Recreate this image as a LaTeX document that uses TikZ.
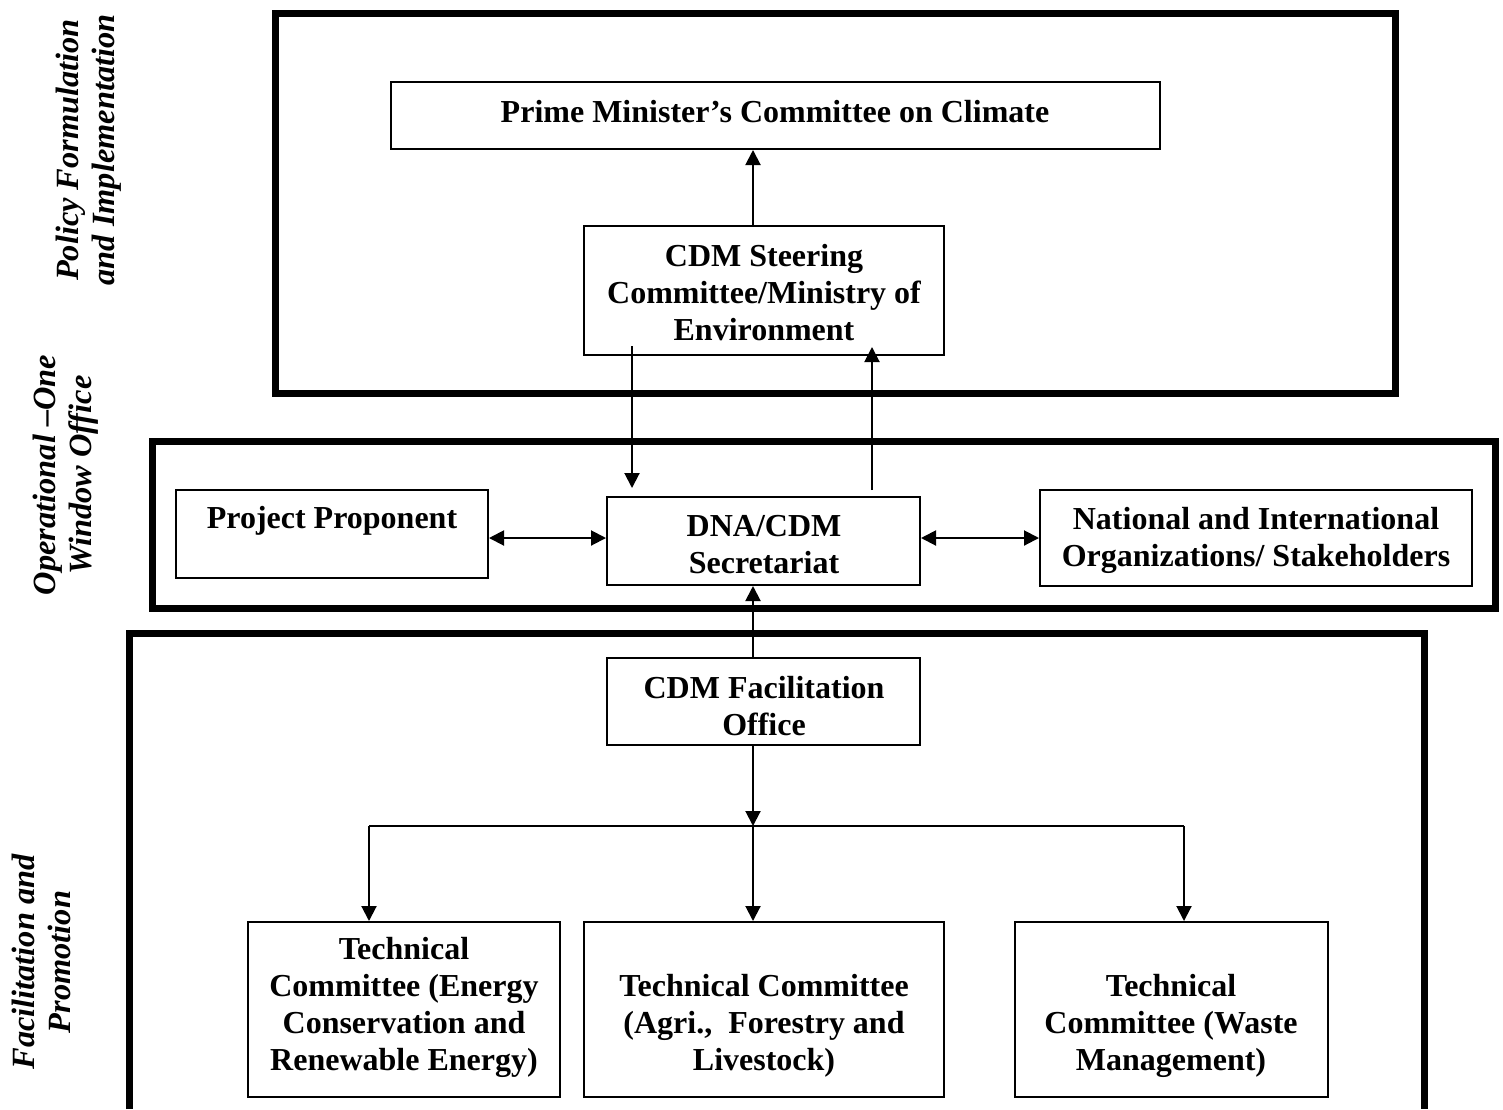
\documentclass[tikz,border=0pt]{standalone}
\usepackage{fontspec}
\setmainfont{Liberation Serif}
\usetikzlibrary{arrows.meta}
\begin{document}
\begin{tikzpicture}[x=0.5pt,y=-0.5pt,
  frame/.style={line width=3.5pt},
  box/.style={draw,line width=1pt,inner sep=0pt,rectangle},
  txt/.style={align=center,inner sep=0pt,font=\bfseries\fontsize{16}{18.5}\selectfont},
  side/.style={align=center,inner sep=0pt,rotate=90,font=\bfseries\itshape\fontsize{16.2}{18}\selectfont},
  arr/.style={line width=1pt,-{Triangle[length=7.5pt,width=7.5pt]}},
  darr/.style={line width=1pt,{Triangle[length=7.5pt,width=7.5pt]}-{Triangle[length=7.5pt,width=7.5pt]}},
  ln/.style={line width=1pt}]
\useasboundingbox (0,0) rectangle (1503,1109);
% outer frames
\draw[frame] (275,13) rectangle (1395,393);
\draw[frame] (152,441) rectangle (1495,608);
\draw[frame] (129,1109) -- (129,633) -- (1424,633) -- (1424,1109);
% side labels
\node[side] (lpol) at (89,150) {Policy Formulation\\and Implementation};
\node[side] (lop) at (66,475) {Operational –One\\Window Office};
\node[side] (lfac) at (41,962) {Facilitation and\\Promotion};
% boxes
\node[box,minimum width=384.5pt,minimum height=33.5pt] (pm) at (775.5,115.5) {};
\node[box,minimum width=180pt,minimum height=64.5pt] (steer) at (764,290.5) {};
\node[box,minimum width=156pt,minimum height=44pt] (pp) at (332,534) {};
\node[box,minimum width=156.5pt,minimum height=44pt] (dna) at (763.5,541) {};
\node[box,minimum width=216pt,minimum height=48pt] (nat) at (1256,538) {};
\node[box,minimum width=156.5pt,minimum height=43.5pt] (fac) at (763.5,701.5) {};
\node[box,minimum width=156pt,minimum height=87.5pt] (tc1) at (404,1009.5) {};
\node[box,minimum width=180pt,minimum height=87.5pt] (tc2) at (764,1009.5) {};
\node[box,minimum width=156.5pt,minimum height=87.5pt] (tc3) at (1171.5,1009.5) {};
% texts
\node[txt] (tpm) at (775,112) {Prime Minister’s Committee on Climate};
\node[txt] (tsteer) at (764,293) {CDM Steering\\Committee/Ministry of\\Environment};
\node[txt] (tpp) at (332,521) {Project Proponent};
\node[txt] (tdna) at (764,545) {DNA/CDM\\Secretariat};
\node[txt] (tnat) at (1256,540) {National and International\\Organizations/ Stakeholders};
\node[txt] (tfac) at (764,706) {CDM Facilitation\\Office};
\node[txt] (ttc1) at (404,1007) {Technical\\Committee (Energy\\Conservation and\\Renewable Energy)};
\node[txt] (ttc2) at (764,1026) {Technical Committee\\(Agri.,\ \ Forestry and\\Livestock)};
\node[txt] (ttc3) at (1171,1026) {Technical\\Committee (Waste\\Management)};
% helper coordinates
\coordinate (cx) at (753,0);
\coordinate (dn) at (632,0);
\coordinate (up) at (872,0);
\coordinate (hy) at (0,538);
\coordinate (j) at (753,826);
\coordinate (jl) at (369,826);
\coordinate (jr) at (1184,826);
% connectors
\draw[arr] (steer.north -| cx) -- (pm.south -| cx);
\draw[arr,shorten <=-5pt,shorten >=4pt] (steer.south -| dn) -- (dna.north -| dn);
\draw[arr,shorten <=3pt,shorten >=-4.5pt] (dna.north -| up) -- (steer.south -| up);
\draw[darr] (pp.east |- hy) -- (dna.west |- hy);
\draw[darr] (dna.east |- hy) -- (nat.west |- hy);
\draw[arr] (fac.north -| cx) -- (dna.south -| cx);
\draw[arr] (fac.south -| cx) -- (j);
\draw[ln] (jl) -- (jr);
\draw[arr] (jl) -- (tc1.north -| jl);
\draw[arr] (j) -- (tc2.north -| j);
\draw[arr] (jr) -- (tc3.north -| jr);
\end{tikzpicture}
\end{document}
